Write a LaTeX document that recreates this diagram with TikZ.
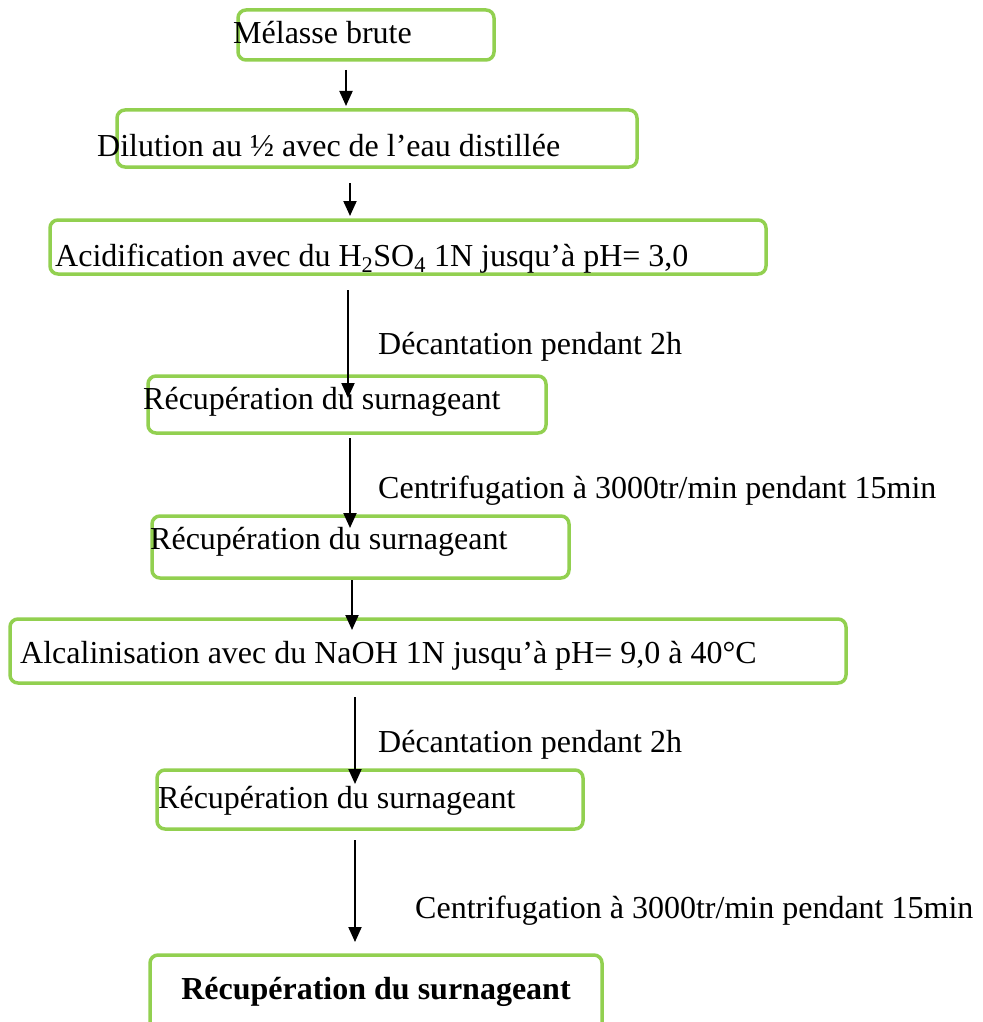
\documentclass[tikz,border=0pt]{standalone}
\usepackage{fontspec}
\setmainfont{Liberation Serif}
\usetikzlibrary{arrows.meta}
\definecolor{boxgreen}{HTML}{92D050}
\tikzset{
  stepbox/.style={draw=boxgreen, line width=3.5pt, rounded corners=8pt, anchor=north west, inner sep=0pt, outer sep=0pt},
  txt/.style={anchor=base west, inner sep=0pt, font=\fontsize{32}{38}\selectfont},
  arr/.style={line width=2pt, -{Triangle[width=13pt,length=15pt]}}
}
\begin{document}
\begin{tikzpicture}[x=1pt,y=-1pt]
\useasboundingbox (0,0) rectangle (982,1022);
\clip (0,0) rectangle (982,1022);
% boxes
\node[stepbox, minimum width=256pt, minimum height=50pt] (b1) at (238,10) {};
\node[stepbox, minimum width=520pt, minimum height=57pt] (b2) at (117,110) {};
\node[stepbox, minimum width=716pt, minimum height=54pt] (b3) at (50,220) {};
\node[stepbox, minimum width=398pt, minimum height=57pt] (b4) at (148,376) {};
\node[stepbox, minimum width=417pt, minimum height=62pt] (b5) at (152,516) {};
\node[stepbox, minimum width=836pt, minimum height=64pt] (b6) at (10,619) {};
\node[stepbox, minimum width=426pt, minimum height=59pt] (b7) at (157,770) {};
\node[stepbox, minimum width=452pt, minimum height=80pt] (b8) at (150,955) {};
% texts
\node[txt] (t1) at (233,44) {Mélasse brute};
\node[txt] (t2) at (97,156) {Dilution au ½ avec de l’eau distillée};
\node[txt] (t3) at (55,266) {Acidification avec du H\textsubscript{2}SO\textsubscript{4} 1N jusqu’à pH= 3,0};
\node[txt] (l1) at (378,354) {Décantation pendant 2h};
\node[txt] (t4) at (143,409) {Récupération du surnageant};
\node[txt] (l2) at (378,498) {Centrifugation à 3000tr/min pendant 15min};
\node[txt] (t5) at (150,549) {Récupération du surnageant};
\node[txt] (t6) at (20,663) {Alcalinisation avec du NaOH 1N jusqu’à pH= 9,0 à 40°C};
\node[txt] (l3) at (378,752) {Décantation pendant 2h};
\node[txt] (t7) at (158,808) {Récupération du surnageant};
\node[txt] (l4) at (415,918) {Centrifugation à 3000tr/min pendant 15min};
\node[txt, anchor=base, font=\fontsize{32}{38}\selectfont\bfseries] (t8) at (376,999) {Récupération du surnageant};
% arrow ends
\coordinate (a1s) at (346,70);  \coordinate (a1e) at (346,106);
\coordinate (a2s) at (350,183); \coordinate (a2e) at (350,216);
\coordinate (a3s) at (348,290); \coordinate (a3e) at (348,398);
\coordinate (a4s) at (350,438); \coordinate (a4e) at (350,528);
\coordinate (a5s) at (352,580); \coordinate (a5e) at (352,630);
\coordinate (a6s) at (355,697); \coordinate (a6e) at (355,784);
\coordinate (a7s) at (355,840); \coordinate (a7e) at (355,942);
\draw[arr] (a1s) -- (a1e);
\draw[arr] (a2s) -- (a2e);
\draw[arr] (a3s) -- (a3e);
\draw[arr] (a4s) -- (a4e);
\draw[arr] (a5s) -- (a5e);
\draw[arr] (a6s) -- (a6e);
\draw[arr] (a7s) -- (a7e);
\end{tikzpicture}
\end{document}
